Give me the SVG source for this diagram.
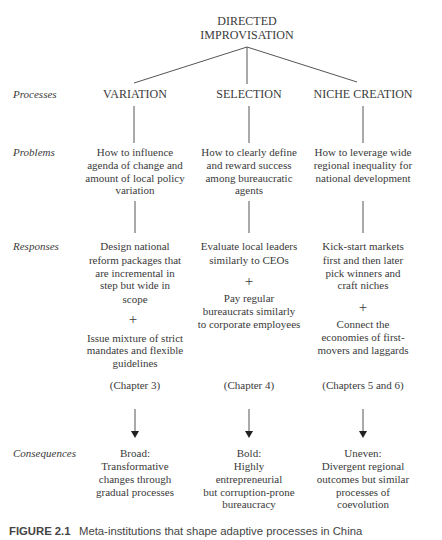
<svg xmlns="http://www.w3.org/2000/svg" width="442" height="540" viewBox="0 0 442 540">
<style>
text{font-family:"Liberation Serif","Times New Roman",serif;fill:#3a3a3a;}
.c{text-anchor:middle;font-size:11px;}
.cap{text-anchor:middle;font-size:12px;}
.lab{font-style:italic;font-size:11px;}
.plus{text-anchor:middle;font-size:15px;}
.ln{stroke:#555;stroke-width:1;fill:none;}
.fig{font-family:"Liberation Sans",Arial,sans-serif;font-size:11.3px;fill:#444;}
</style>
<rect width="442" height="540" fill="#fff"/>
<g id="connectors">
<line class="ln" x1="247" y1="47" x2="134" y2="83"/>
<line class="ln" x1="247" y1="47" x2="247" y2="84"/>
<line class="ln" x1="247" y1="47" x2="357" y2="82"/>
<line class="ln" x1="134" y1="106" x2="134" y2="143"/>
<line class="ln" x1="249" y1="106" x2="249" y2="143"/>
<line class="ln" x1="363" y1="106" x2="363" y2="143"/>
<line class="ln" x1="135" y1="201" x2="135" y2="233"/>
<line class="ln" x1="249" y1="201" x2="249" y2="233"/>
<line class="ln" x1="363" y1="201" x2="363" y2="233"/>
<line class="ln" x1="135" y1="409" x2="135" y2="431" stroke="#333"/>
<line class="ln" x1="249" y1="409" x2="249" y2="431" stroke="#333"/>
<line class="ln" x1="363" y1="409" x2="363" y2="431" stroke="#333"/>
<path d="M131,431 L139,431 L135,438 Z" fill="#222"/>
<path d="M245,431 L253,431 L249,438 Z" fill="#222"/>
<path d="M359,431 L367,431 L363,438 Z" fill="#222"/>
</g>
<g id="labels">
<text class="lab" x="13" y="98">Processes</text>
<text class="lab" x="13" y="156">Problems</text>
<text class="lab" x="13" y="250">Responses</text>
<text class="lab" x="13" y="457">Consequences</text>
</g>
<g id="root">
<text class="cap" x="247" y="25">DIRECTED</text>
<text class="cap" x="247" y="39">IMPROVISATION</text>
</g>
<g id="variation"><text class="cap" x="135" y="98">VARIATION</text></g>
<g id="selection"><text class="cap" x="249" y="98">SELECTION</text></g>
<g id="niche"><text class="cap" x="363" y="98">NICHE CREATION</text></g>
<g id="problem-variation">
<text class="c" x="135" y="156">How to influence</text>
<text class="c" x="135" y="169">agenda of change and</text>
<text class="c" x="135" y="182">amount of local policy</text>
<text class="c" x="135" y="194">variation</text>
</g>
<g id="problem-selection">
<text class="c" x="249" y="156">How to clearly define</text>
<text class="c" x="249" y="169">and reward success</text>
<text class="c" x="249" y="182">among bureaucratic</text>
<text class="c" x="249" y="194">agents</text>
</g>
<g id="problem-niche">
<text class="c" x="363" y="156">How to leverage wide</text>
<text class="c" x="363" y="169">regional inequality for</text>
<text class="c" x="363" y="182">national development</text>
</g>
<g id="response-variation">
<text class="c" x="135" y="250">Design national</text>
<text class="c" x="135" y="264">reform packages that</text>
<text class="c" x="135" y="277">are incremental in</text>
<text class="c" x="135" y="289">step but wide in</text>
<text class="c" x="135" y="303">scope</text>
<text class="plus" x="133" y="324">+</text>
<text class="c" x="135" y="342">Issue mixture of strict</text>
<text class="c" x="135" y="354">mandates and flexible</text>
<text class="c" x="135" y="367">guidelines</text>
<text class="c" x="135" y="389">(Chapter 3)</text>
</g>
<g id="response-selection">
<text class="c" x="249" y="250">Evaluate local leaders</text>
<text class="c" x="249" y="264">similarly to CEOs</text>
<text class="plus" x="249" y="286">+</text>
<text class="c" x="249" y="302">Pay regular</text>
<text class="c" x="249" y="315">bureaucrats similarly</text>
<text class="c" x="249" y="328">to corporate employees</text>
<text class="c" x="249" y="389">(Chapter 4)</text>
</g>
<g id="response-niche">
<text class="c" x="363" y="250">Kick-start markets</text>
<text class="c" x="363" y="264">first and then later</text>
<text class="c" x="363" y="277">pick winners and</text>
<text class="c" x="363" y="289">craft niches</text>
<text class="plus" x="363" y="312">+</text>
<text class="c" x="363" y="328">Connect the</text>
<text class="c" x="363" y="341">economies of first-</text>
<text class="c" x="363" y="354">movers and laggards</text>
<text class="c" x="363" y="389">(Chapters 5 and 6)</text>
</g>
<g id="consequence-variation">
<text class="c" x="135" y="457">Broad:</text>
<text class="c" x="135" y="470">Transformative</text>
<text class="c" x="135" y="483">changes through</text>
<text class="c" x="135" y="496">gradual processes</text>
</g>
<g id="consequence-selection">
<text class="c" x="249" y="457">Bold:</text>
<text class="c" x="249" y="470">Highly</text>
<text class="c" x="249" y="483">entrepreneurial</text>
<text class="c" x="249" y="496">but corruption-prone</text>
<text class="c" x="249" y="508">bureaucracy</text>
</g>
<g id="consequence-niche">
<text class="c" x="363" y="457">Uneven:</text>
<text class="c" x="363" y="470">Divergent regional</text>
<text class="c" x="363" y="483">outcomes but similar</text>
<text class="c" x="363" y="496">processes of</text>
<text class="c" x="363" y="508">coevolution</text>
</g>
<g id="caption">
<text class="fig" x="9" y="535" font-weight="bold" fill="#222" font-size="11.5">FIGURE 2.1</text>
<text class="fig" x="79" y="535">Meta-institutions that shape adaptive processes in China</text>
</g>
</svg>
